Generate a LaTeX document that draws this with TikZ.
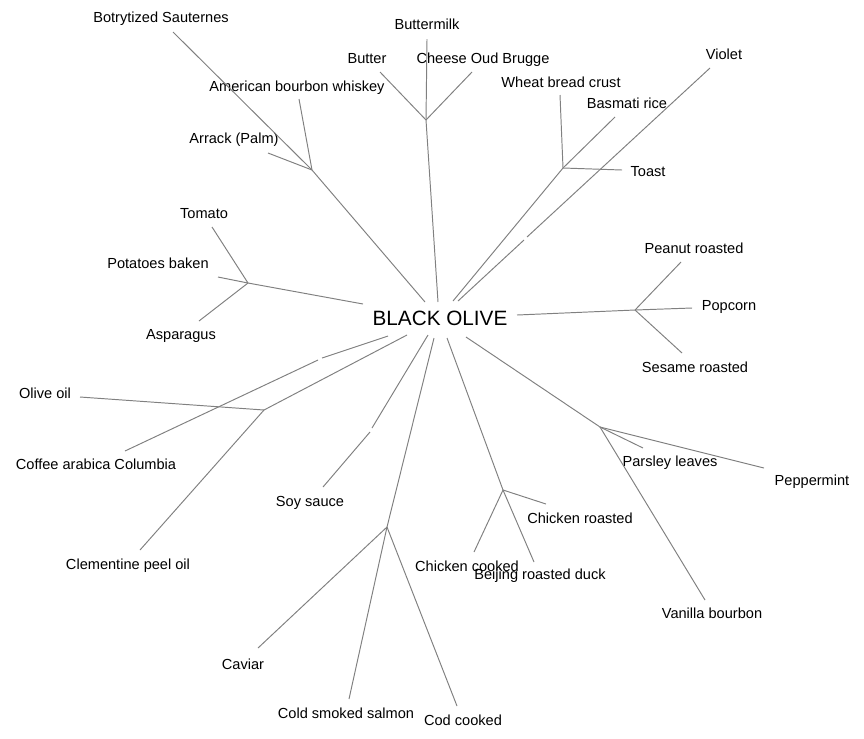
\documentclass[tikz,border=0pt]{standalone}
\usepackage{fontspec}
\setmainfont{Liberation Sans}

\definecolor{linegray}{RGB}{128,128,128}

\tikzset{
  leaf/.style={font=\fontsize{8.3}{10}\selectfont, inner sep=0pt, text height=6pt, text depth=0pt},
  root/.style={font=\fontsize{11.8}{14}\selectfont, inner sep=0pt, text height=8.5pt, text depth=0pt},
  branch/.style={draw=linegray, line width=0.55pt}
}

\begin{document}
\begin{tikzpicture}[x=0.02cm, y=-0.02cm]

\useasboundingbox (0,0) rectangle (864,738);

\node[root] (olive) at (440, 318) {BLACK OLIVE};


\node[leaf] (botrytized) at (161, 17) {Botrytized Sauternes};

\node[leaf] (bourbon) at (297, 86) {American bourbon whiskey};

\node[leaf] (arrack) at (234, 138) {Arrack (Palm)};

\node[leaf] (buttermilk) at (427, 24) {Buttermilk};

\node[leaf] (butter) at (367, 58) {Butter};

\node[leaf] (cheese) at (483, 58) {Cheese Oud Brugge};

\node[leaf] (wheat) at (561, 82) {Wheat bread crust};

\node[leaf] (basmati) at (627, 103) {Basmati rice};

\node[leaf] (toast) at (648, 171) {Toast};

\node[leaf] (violet) at (724, 54) {Violet};

\node[leaf] (tomato) at (204, 213) {Tomato};

\node[leaf] (potatoes) at (158, 263) {Potatoes baken};

\node[leaf] (asparagus) at (181, 334) {Asparagus};

\node[leaf] (peanut) at (694, 248) {Peanut roasted};

\node[leaf] (popcorn) at (729, 305) {Popcorn};

\node[leaf] (sesame) at (695, 367) {Sesame roasted};

\node[leaf] (oliveoil) at (45, 393) {Olive oil};

\node[leaf] (coffee) at (96, 464) {Coffee arabica Columbia};

\node[leaf] (clementine) at (128, 564) {Clementine peel oil};

\node[leaf] (soy) at (310, 501) {Soy sauce};

\node[leaf] (parsley) at (670, 461) {Parsley leaves};

\node[leaf] (peppermint) at (812, 480) {Peppermint};

\node[leaf] (vanilla) at (712, 613) {Vanilla bourbon};

\node[leaf] (chroasted) at (580, 518) {Chicken roasted};

\node[leaf] (chcooked) at (467, 566) {Chicken cooked};

\node[leaf] (beijing) at (540, 574) {Beijing roasted duck};

\node[leaf] (caviar) at (243, 664) {Caviar};

\node[leaf] (salmon) at (346, 713) {Cold smoked salmon};

\node[leaf] (cod) at (463, 720) {Cod cooked};


% junctions
\coordinate (jwine) at (312, 170);
\coordinate (jdairy) at (426, 120);
\coordinate (jbread) at (563, 168);
\coordinate (jroast) at (635, 310);
\coordinate (jherb) at (600, 427);
\coordinate (jchicken) at (503, 490);
\coordinate (jfish) at (387, 527);
\coordinate (joil) at (264, 410);
\coordinate (jveg) at (248, 283);

% small breaks in the long lines
\coordinate (vbreaka) at (524, 240);
\coordinate (vbreakb) at (527, 237);
\coordinate (sbreaka) at (372, 428);
\coordinate (sbreakb) at (370, 432);
\coordinate (cbreaka) at (322, 358);
\coordinate (cbreakb) at (318, 360);

% ends next to the centre label
\coordinate (owine) at (425, 302);
\coordinate (odairy) at (438, 302);
\coordinate (obread) at (453, 301);
\coordinate (oviolet) at (458, 301);
\coordinate (oroast) at (517, 315);
\coordinate (oherb) at (466, 337);
\coordinate (ochicken) at (447, 338);
\coordinate (ofish) at (434, 338);
\coordinate (osoy) at (428, 335);
\coordinate (ooil) at (407, 335);
\coordinate (ocoffee) at (388, 336);
\coordinate (oveg) at (363, 304);

% ends next to the leaf labels
\coordinate (ebotrytized) at (173, 32);
\coordinate (ebourbon) at (299, 99);
\coordinate (earrack) at (268, 153);
\coordinate (ebuttermilk) at (427, 39);
\coordinate (ebutter) at (380, 72);
\coordinate (echeese) at (472, 72);
\coordinate (ewheat) at (560, 95);
\coordinate (ebasmati) at (615, 117);
\coordinate (etoast) at (622, 170);
\coordinate (eviolet) at (710, 68);
\coordinate (epeanut) at (681, 262);
\coordinate (epopcorn) at (692, 308);
\coordinate (esesame) at (682, 353);
\coordinate (eparsley) at (643, 448);
\coordinate (epeppermint) at (764, 468);
\coordinate (evanilla) at (705, 600);
\coordinate (echroasted) at (546, 504);
\coordinate (echcooked) at (474, 552);
\coordinate (ebeijing) at (534, 562);
\coordinate (ecaviar) at (258, 648);
\coordinate (esalmon) at (349, 699);
\coordinate (ecod) at (457, 706);
\coordinate (esoy) at (323, 487);
\coordinate (ecoffee) at (125, 451);
\coordinate (eoliveoil) at (80, 397);
\coordinate (eclementine) at (140, 550);
\coordinate (etomato) at (212, 227);
\coordinate (epotatoes) at (218, 277);
\coordinate (easparagus) at (199, 321);


\draw[branch] (owine) -- (jwine) -- (ebotrytized);
\draw[branch] (jwine) -- (ebourbon);
\draw[branch] (jwine) -- (earrack);

\draw[branch] (odairy) -- (jdairy) -- (ebuttermilk);
\draw[branch] (jdairy) -- (ebutter);
\draw[branch] (jdairy) -- (echeese);

\draw[branch] (obread) -- (jbread) -- (ebasmati);
\draw[branch] (jbread) -- (ewheat);
\draw[branch] (jbread) -- (etoast);

\draw[branch] (oviolet) -- (vbreaka);
\draw[branch] (vbreakb) -- (eviolet);

\draw[branch] (oroast) -- (jroast) -- (epopcorn);
\draw[branch] (jroast) -- (epeanut);
\draw[branch] (jroast) -- (esesame);

\draw[branch] (oherb) -- (jherb) -- (evanilla);
\draw[branch] (jherb) -- (eparsley);
\draw[branch] (jherb) -- (epeppermint);

\draw[branch] (ochicken) -- (jchicken) -- (echroasted);
\draw[branch] (jchicken) -- (echcooked);
\draw[branch] (jchicken) -- (ebeijing);

\draw[branch] (ofish) -- (jfish) -- (esalmon);
\draw[branch] (jfish) -- (ecaviar);
\draw[branch] (jfish) -- (ecod);

\draw[branch] (osoy) -- (sbreaka);
\draw[branch] (sbreakb) -- (esoy);

\draw[branch] (ocoffee) -- (cbreaka);
\draw[branch] (cbreakb) -- (ecoffee);

\draw[branch] (ooil) -- (joil) -- (eoliveoil);
\draw[branch] (joil) -- (eclementine);

\draw[branch] (oveg) -- (jveg) -- (epotatoes);
\draw[branch] (jveg) -- (etomato);
\draw[branch] (jveg) -- (easparagus);

\end{tikzpicture}
\end{document}
